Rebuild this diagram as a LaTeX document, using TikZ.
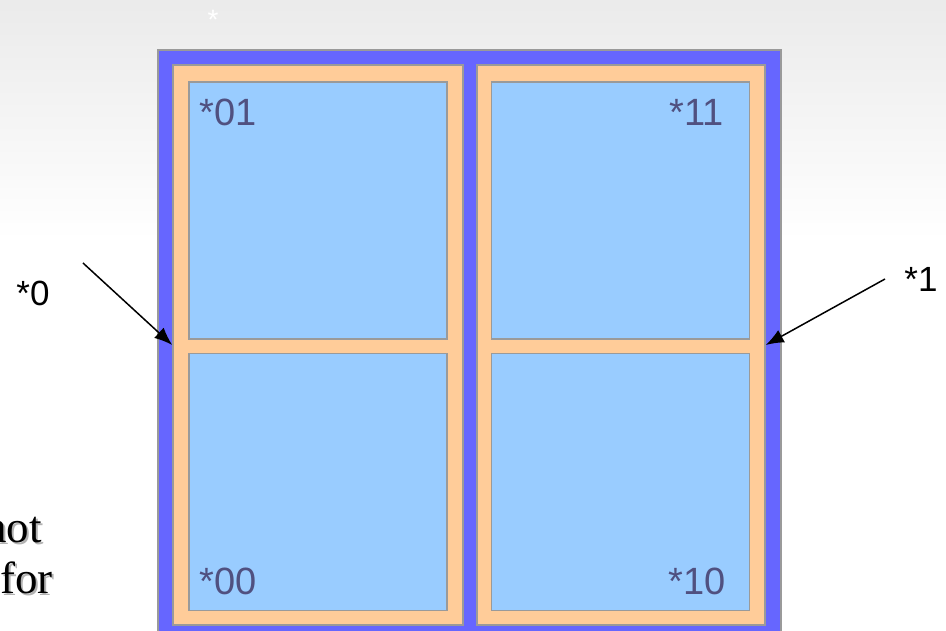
\documentclass[tikz,border=0pt]{standalone}
\usepackage{fontspec}
\setmainfont{Liberation Sans}
\newfontfamily\timesfont{Liberation Serif}
\usetikzlibrary{arrows.meta,positioning}
\definecolor{frameblue}{HTML}{6666FF}
\definecolor{peach}{HTML}{FFCC99}
\definecolor{sky}{HTML}{99CCFF}
\definecolor{rim}{HTML}{9A9A9A}
\definecolor{slate}{HTML}{505080}
\tikzset{
  outer/.style={draw=rim,line width=1.5pt,fill=frameblue,minimum width=623pt,minimum height=600pt,inner sep=0pt},
  half/.style={draw=rim,line width=1.5pt,fill=peach,minimum height=560pt,inner sep=0pt},
  cell/.style={draw=rim,line width=1.5pt,fill=sky,minimum width=258pt,minimum height=257pt,inner sep=0pt},
  tag/.style={text=slate,font=\fontsize{38}{38}\selectfont,inner sep=0pt},
  side/.style={font=\fontsize{35}{35}\selectfont,inner sep=0pt},
  point/.style={-{Latex[length=18pt,width=14pt]},line width=1.5pt},
  serif/.style={font=\timesfont\fontsize{45}{45}\selectfont,anchor=base east,inner sep=0pt}
}
\begin{document}
\begin{tikzpicture}[x=1pt,y=-1pt]
\useasboundingbox (0,0) rectangle (946,631);
\shade[top color=black!8,bottom color=white] (0,0) rectangle (946,240);
\node[text=white,font=\fontsize{28}{28}\selectfont,inner sep=0pt] (star) at (213,20) {*};

% frame and the two halves
\node[outer] (frame) at (469.5,350) {};
\node[half,minimum width=290pt] (left) at (318,345) {};
\node[half,minimum width=288pt] (right) at (621,345) {};

% four cells
\node[cell] (c01) at (318,210.5) {};
\node[cell] (c00) at (318,482) {};
\node[cell] (c11) at (620.5,210.5) {};
\node[cell] (c10) at (620.5,482) {};
\node[tag] (t01) at (228,112) {*01};
\node[tag] (t11) at (697,112) {*11};
\node[tag] (t00) at (228,581) {*00};
\node[tag] (t10) at (697,581) {*10};

% side labels
\node[side] (s0) at (33,293) {*0};
\node[side] (s1) at (921,279) {*1};
\coordinate (from0) at (83,263);
\coordinate (from1) at (885,279);
\draw[point] (from0) -- (left.west);
\draw[point] (from1) -- (right.east);

% cut-off text on the left
\node[serif,text=black!30] (notsh) at (44,544) {not};
\node[serif] (not) at (42,542) {not};
\node[serif,text=black!30] (forsh) at (55,595) {for};
\node[serif] (for) at (53,593) {for};
\end{tikzpicture}
\end{document}
